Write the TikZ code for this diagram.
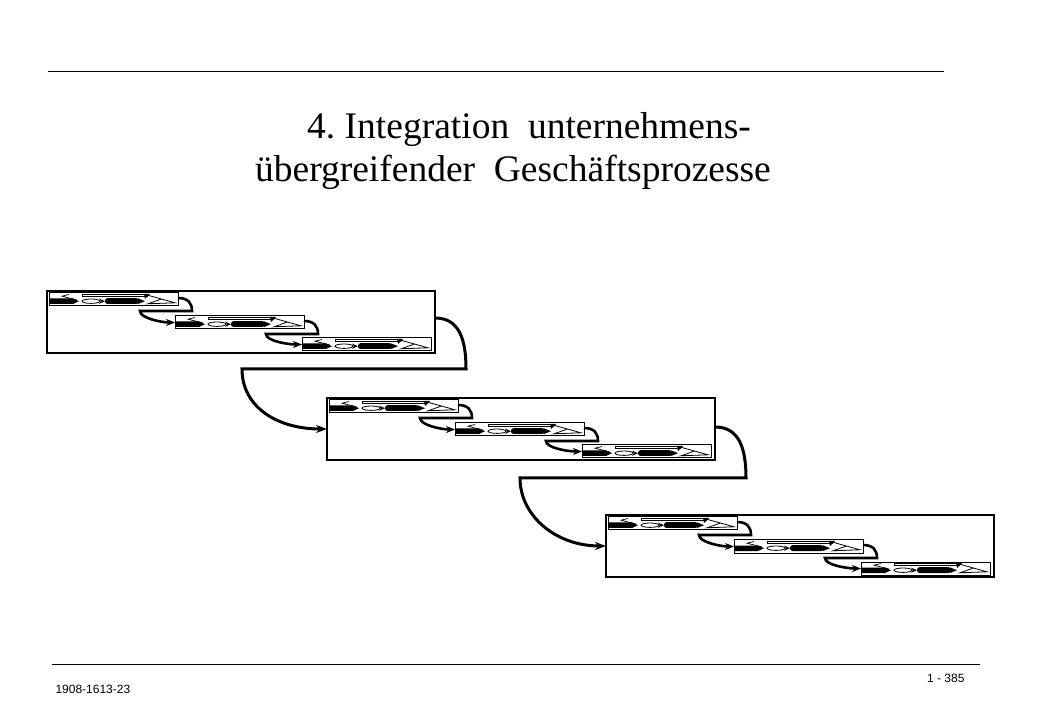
\documentclass[tikz,border=0pt]{standalone}
\usepackage{fontspec}
\setmainfont{Liberation Serif}
\newfontfamily\footfont{Liberation Sans}
\usepackage{tikz}
\usetikzlibrary{arrows.meta}

% little process chain drawn into a strip node
\newcommand{\StripIcon}[1]{%
  \begin{scope}[shift={(#1.north west)}]
    \fill (1,-5.5) -- (24,-5.5) -- (30,-8.2) -- (24,-11) -- (1,-11) -- cycle;
    \draw[line width=0.7pt] (28,-7) -- (13,-3.2) -- (20,-1.5);
    \draw[line width=0.8pt] (33,-1.2) rectangle (98,-3.8);
    \draw[line width=0.8pt] (42,-8.2) ellipse (9pt and 2.2pt);
    \fill (50,-5.6) -- (56,-8.2) -- (50,-10.8) -- (52,-8.2) -- cycle;
    \fill[rounded corners=2.5pt] (56,-5.2) rectangle (90,-11);
    \fill (89,-5.4) -- (96,-8.2) -- (89,-11) -- cycle;
    \fill (95,-1) -- (101,-1) -- (96,-6) -- cycle;
    \draw[line width=0.8pt] (98,-2) -- (126,-9.8) -- (99,-10.8) -- (112,-6.2);
  \end{scope}}

\begin{document}
\begin{tikzpicture}[x=1pt,y=1pt]
  \tikzstyle{BoxStyle}=[draw,line width=1.3pt,minimum width=388pt,minimum height=62pt,
                        inner sep=0pt,outer sep=0pt,anchor=north west]
  \tikzstyle{StripStyle}=[draw,line width=1pt,minimum width=129pt,minimum height=13pt,
                          inner sep=0pt,outer sep=0pt,anchor=north west]
  \tikzstyle{SmallFlow}=[line width=2.6pt,-{Stealth[length=9pt,width=7pt]}]
  \tikzstyle{BigFlow}=[line width=3pt,-{Stealth[length=11pt,width=8pt]}]
  \fill[white] (0,0) rectangle (1040,720);
  \useasboundingbox (0,0) rectangle (1040,720);
  % rules and texts
  \draw[line width=1pt] (48,648) -- (944,648);
  \draw[line width=1pt] (52,56) -- (980,56);
  \node[anchor=base,font=\fontsize{37.5pt}{43pt}\selectfont] (title1) at (529,581) {4.\ Integration\ \ unternehmens-};
  \node[anchor=base,font=\fontsize{37.5pt}{43pt}\selectfont] (title2) at (513,538) {übergreifender\ \ Geschäftsprozesse};
  \node[anchor=base west,font=\footfont\fontsize{12pt}{14pt}\selectfont] (code) at (52,27) {1908-1613-23};
  \node[anchor=base east,font=\footfont\fontsize{12pt}{14pt}\selectfont] (page) at (968,38) {1 - 385};
  % boxes
  \node[BoxStyle] (box1) at (47,429) {};
  \node[BoxStyle] (box2) at (327,322) {};
  \node[BoxStyle] (box3) at (606,205) {};
  % strips
  \node[StripStyle] (s11) at (49,427) {};
  \node[StripStyle] (s12) at (175,404) {};
  \node[StripStyle] (s13) at (302,382) {};
  \node[StripStyle] (s21) at (329,320) {};
  \node[StripStyle] (s22) at (455,297) {};
  \node[StripStyle] (s23) at (582,275) {};
  \node[StripStyle] (s31) at (608,203) {};
  \node[StripStyle] (s32) at (734,180) {};
  \node[StripStyle] (s33) at (861,158) {};
  \StripIcon{s11} \StripIcon{s12} \StripIcon{s13}
  \StripIcon{s21} \StripIcon{s22} \StripIcon{s23}
  \StripIcon{s31} \StripIcon{s32} \StripIcon{s33}
  % small flows
  \draw[SmallFlow] ([yshift=1.5pt]s11.east) .. controls +(10,0) and +(0,8) .. ++(14,-13) -- ++(-52,0) .. controls +(0,-7) and +(-14,0) .. (s12.west);
  \draw[SmallFlow] ([yshift=1.5pt]s12.east) .. controls +(10,0) and +(0,8) .. ++(14,-13) -- ++(-52,0) .. controls +(0,-7) and +(-14,0) .. (s13.west);
  \draw[SmallFlow] ([yshift=1.5pt]s21.east) .. controls +(10,0) and +(0,8) .. ++(14,-13) -- ++(-52,0) .. controls +(0,-7) and +(-14,0) .. (s22.west);
  \draw[SmallFlow] ([yshift=1.5pt]s22.east) .. controls +(10,0) and +(0,8) .. ++(14,-13) -- ++(-52,0) .. controls +(0,-7) and +(-14,0) .. (s23.west);
  \draw[SmallFlow] ([yshift=1.5pt]s31.east) .. controls +(10,0) and +(0,8) .. ++(14,-13) -- ++(-52,0) .. controls +(0,-7) and +(-14,0) .. (s32.west);
  \draw[SmallFlow] ([yshift=1.5pt]s32.east) .. controls +(10,0) and +(0,8) .. ++(14,-13) -- ++(-52,0) .. controls +(0,-7) and +(-14,0) .. (s33.west);
  % big flows
  \draw[BigFlow] ([yshift=4pt]box1.east) .. controls +(24,0) and +(0,30) .. ++(31,-51) -- ++(-224,0) .. controls +(0,-38) and +(-50,0) .. (box2.west);
  \draw[BigFlow] ([yshift=2pt]box2.east) .. controls +(24,0) and +(0,30) .. ++(31,-51) -- ++(-226,0) .. controls +(0,-38) and +(-50,0) .. (box3.west);
\end{tikzpicture}
\end{document}
